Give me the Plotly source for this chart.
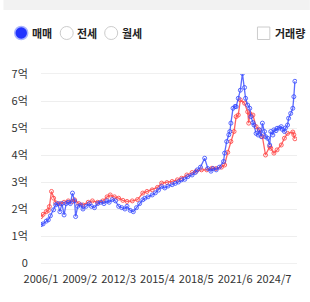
import plotly.graph_objects as go

# month offsets from 2006/1
blue_m = [0,2,5,7,9,12,14,16,18,20,22,24,26,28,30,32,33,35,38,40,43,46,48,51,54,57,60,63,65,68,71,74,77,80,82,85,88,91,94,97,99,102,106,109,112,115,118,121,125,128,131,134,137,140,144,147,149,152,156,159,162,164,167,170,174,175,177,179,180,181,183,185,186,188,190,192,194,195,197,199,200,202,203,205,207,208,210,211,213,214,216,218,219,221,222,224,225,227,229,230,232,233,235,236,238,240,241,242]
blue_v = [1.42,1.45,1.55,1.6,1.75,1.97,2.15,2.2,1.9,2.2,1.78,2.2,2.25,2.2,2.59,2.3,1.72,2.1,2.15,2.0,2.1,2.2,2.1,2.05,2.2,2.25,2.2,2.3,2.25,2.35,2.3,2.1,2.05,2.0,2.1,1.95,1.9,2.05,2.2,2.34,2.4,2.45,2.52,2.6,2.7,2.83,2.78,2.85,2.9,2.95,3.0,3.08,3.1,3.2,3.26,3.35,3.45,3.55,3.88,3.5,3.4,3.5,3.45,3.55,3.76,4.07,4.5,4.75,4.87,5.18,5.73,5.8,5.79,6.1,6.4,7.02,6.5,6.1,5.85,5.73,5.42,5.2,5.11,4.8,4.74,4.93,4.68,5.18,4.87,4.68,4.62,4.37,4.87,4.74,4.93,4.9,4.99,5.0,5.05,4.95,4.87,5.0,5.11,5.36,5.54,5.73,6.16,6.73]

red_m = [0,2,5,7,8,10,12,14,18,22,26,30,32,36,40,45,49,54,59,63,66,70,74,78,82,87,92,97,101,106,111,115,120,125,130,134,139,144,148,153,158,163,167,172,175,178,181,184,186,188,190,194,197,198,199,202,205,208,211,214,218,219,222,225,229,232,235,240,241,242]
red_v = [1.72,1.8,1.9,1.95,2.09,2.65,2.4,2.23,2.2,2.25,2.3,2.28,2.34,2.2,2.15,2.25,2.3,2.25,2.3,2.45,2.52,2.45,2.4,2.32,2.28,2.3,2.35,2.59,2.65,2.71,2.8,2.96,2.98,3.02,3.08,3.14,3.26,3.35,3.4,3.45,3.45,3.51,3.5,3.55,3.63,4.1,4.5,4.87,5.42,5.48,6.04,5.92,5.6,5.18,5.54,5.48,5.05,4.93,4.68,4.0,4.31,4.25,4.07,4.19,4.37,4.62,4.8,4.85,4.75,4.6]

tick_m = [0,37,74,111,148,185,222]
tick_text = ["2006/1","2009/2","2012/3","2015/4","2018/5","2021/6","2024/7"]
y_vals = [0,1,2,3,4,5,6,7]
y_text = ["0","1억","2억","3억","4억","5억","6억","7억"]
header_labels = ["매매", "전세", "월세", "거래량"]

FONT = "Noto Sans CJK KR"
fig = go.Figure()
fig.add_trace(go.Scatter(x=red_m, y=red_v, mode="lines+markers",
    line=dict(color="rgba(255,70,70,0.85)", width=1.3),
    marker=dict(symbol="circle-open", size=4, color="rgba(255,70,70,0.85)", line=dict(width=1)),
    hoverinfo="skip"))
fig.add_trace(go.Scatter(x=blue_m, y=blue_v, mode="lines+markers",
    line=dict(color="rgba(50,70,255,0.8)", width=1.3),
    marker=dict(symbol="circle-open", size=4, color="rgba(50,70,255,0.8)", line=dict(width=1)),
    hoverinfo="skip"))

W, H = 310, 302
L, R, T, B = 38, 13, 74, 39
pw, ph = W - L - R, H - T - B
def px(x): return (x - L) / pw
def py(y): return (H - B - y) / ph

shapes = [
    dict(type="rect", xref="paper", yref="paper", x0=px(0), x1=px(W), y0=py(10), y1=py(0),
         fillcolor="#f2f2f2", line=dict(width=0), layer="below"),
]
def circ(cx, cy, r, fill, lc, lw):
    return dict(type="circle", xref="paper", yref="paper", xsizemode="pixel", ysizemode="pixel",
                xanchor=px(cx), yanchor=py(cy), x0=-r, x1=r, y0=-r, y1=r,
                fillcolor=fill, line=dict(color=lc, width=lw))
shapes.append(circ(18, 33, 6.5, "#2233ff", "#aab4ff", 1.5))
shapes.append(circ(64, 33, 6.5, "white", "#cccccc", 1))
shapes.append(circ(109, 33, 6.5, "white", "#cccccc", 1))
shapes.append(dict(type="rect", xref="paper", yref="paper", x0=px(257), x1=px(269.5), y0=py(39.5), y1=py(27),
                   fillcolor="white", line=dict(color="#cccccc", width=1)))

anns = []
for x, t in zip([28, 73.5, 119, 273.5], header_labels):
    anns.append(dict(xref="paper", yref="paper", x=px(x), y=py(33), text="<b>" + t + "</b>", showarrow=False,
                     xanchor="left", yanchor="middle", xshift=-1,
                     font=dict(family=FONT, size=11, color="#222")))

fig.update_layout(
    width=W, height=H, margin=dict(l=L, r=R, t=T, b=B),
    paper_bgcolor="white", plot_bgcolor="white", showlegend=False,
    shapes=shapes, annotations=anns,
    font=dict(family=FONT, size=11, color="#333"),
    xaxis=dict(range=[0, 244], tickvals=tick_m, ticktext=tick_text, showgrid=False,
               zeroline=False, showline=True, mirror=True, linecolor="#f0f0f0", linewidth=1,
               ticks="outside", ticklen=6, tickcolor="rgba(0,0,0,0)", tickfont=dict(size=11, color="#333")),
    yaxis=dict(range=[0, 7], tickvals=y_vals, ticktext=y_text, showgrid=True, gridcolor="#eeeeee",
               zeroline=False, showline=False,
               ticks="outside", ticklen=10, tickcolor="rgba(0,0,0,0)", tickfont=dict(size=11, color="#333")),
)
fig.write_html("out.html")
